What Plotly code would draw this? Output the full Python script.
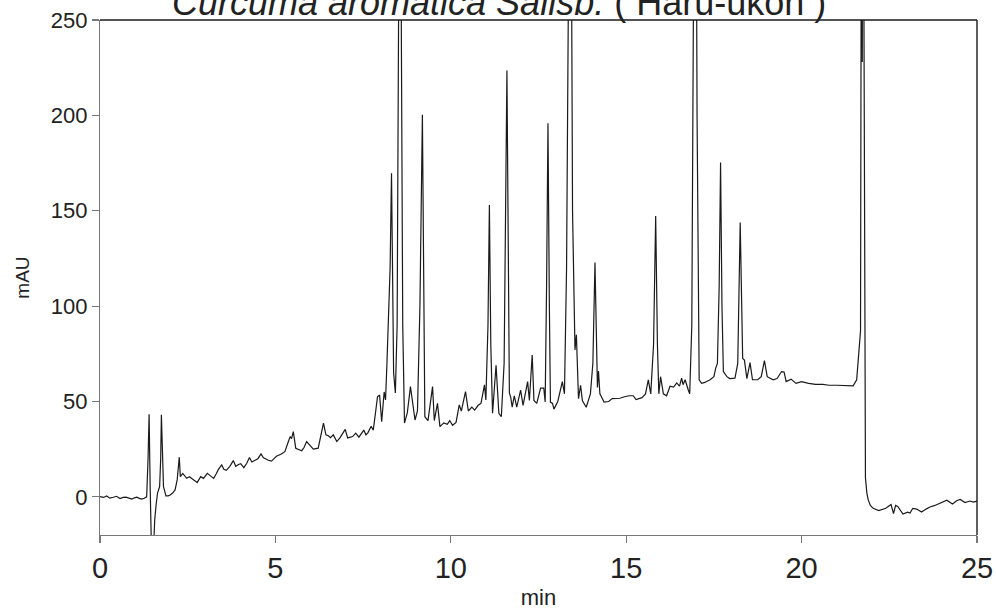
import plotly.graph_objects as go

# Retention time (min) and absorbance (mAU)
time_min = [
    0.00, 0.10, 0.19, 0.28, 0.38, 0.47, 0.57, 0.66, 0.74, 0.83, 0.91, 0.98, 1.05, 1.12, 1.19, 1.26, 1.33,
    1.37, 1.40, 1.43, 1.46, 1.49, 1.52, 1.56, 1.60, 1.64, 1.70, 1.73, 1.75, 1.78, 1.81, 1.88, 1.94,
    2.00, 2.07, 2.14, 2.20, 2.26, 2.29, 2.36, 2.42, 2.47, 2.55, 2.62, 2.70, 2.77, 2.87, 2.95,
    3.06, 3.15, 3.24, 3.31, 3.38, 3.47, 3.53, 3.60, 3.70, 3.80, 3.87, 3.95,
    4.01, 4.10, 4.18, 4.26, 4.33, 4.42, 4.50, 4.59, 4.66, 4.80, 4.89, 4.96,
    5.03, 5.17, 5.27, 5.37, 5.42, 5.46, 5.51, 5.58, 5.66, 5.75, 5.82, 5.89, 5.98,
    6.08, 6.22, 6.30, 6.37, 6.44, 6.51, 6.57, 6.65, 6.75, 6.84, 6.99,
    7.06, 7.20, 7.29, 7.38, 7.52, 7.58, 7.64, 7.73, 7.79, 7.86, 7.91, 7.97,
    8.03, 8.10, 8.14, 8.18, 8.22, 8.27, 8.31, 8.37, 8.42, 8.47, 8.55, 8.63, 8.68, 8.76, 8.85, 8.98,
    9.05, 9.12, 9.19, 9.23, 9.26, 9.35, 9.48, 9.53, 9.62, 9.69, 9.80, 9.90, 9.97,
    10.05, 10.15, 10.24, 10.30, 10.42, 10.50, 10.60, 10.68, 10.78, 10.86, 10.96,
    11.00, 11.06, 11.10, 11.14, 11.19, 11.29, 11.37, 11.44, 11.52, 11.60, 11.64, 11.67, 11.71,
    11.75, 11.81, 11.88, 11.99,
    12.06, 12.19, 12.24, 12.32, 12.37, 12.45, 12.56, 12.65, 12.69, 12.73, 12.77, 12.81, 12.84,
    12.90, 12.94,
    13.05, 13.18, 13.24, 13.30, 13.41, 13.47, 13.54, 13.58, 13.64, 13.70, 13.75, 13.86, 13.98,
    14.05, 14.11, 14.16, 14.18, 14.21, 14.25, 14.37, 14.50, 14.60, 14.82, 14.95,
    15.08, 15.20, 15.28, 15.45, 15.55, 15.63, 15.70, 15.78, 15.84, 15.89, 15.93, 15.98,
    16.06, 16.15, 16.25, 16.35, 16.44, 16.52, 16.58, 16.62, 16.68, 16.77, 16.81, 16.87, 16.97,
    17.02, 17.08, 17.15, 17.24, 17.39, 17.50, 17.55, 17.60, 17.65, 17.69, 17.73, 17.77, 17.87, 17.95,
    18.10, 18.18, 18.25, 18.30, 18.32, 18.37, 18.44, 18.53, 18.60, 18.75, 18.85, 18.94,
    19.02, 19.19, 19.30, 19.43, 19.50, 19.56, 19.70, 19.84,
    20.00, 20.20, 20.40, 20.60, 20.78, 21.00, 21.20, 21.47, 21.57, 21.64, 21.68, 21.71, 21.73,
    21.74, 21.76, 21.80, 21.82, 21.86, 21.90, 21.96,
    22.04, 22.20, 22.40, 22.55, 22.62, 22.68, 22.74, 22.89,
    23.02, 23.09, 23.17, 23.28, 23.42, 23.56, 23.66, 23.80, 23.95,
    24.14, 24.30, 24.42, 24.52, 24.66, 24.80, 24.90, 25.00,
]
absorbance_mau = [
    0.1, -0.3, 0.5, -0.7, -0.2, 0.3, -0.9, -0.3, -0.2, -0.9, -1.2, -0.5, -0.2, -0.8, -1.2, -0.7, 0.0,
    20, 43.3, 5, -40, -48, -30, -12, -4, 2, 5.4, 20, 43, 15, 5.4, 0.5, 0.5,
    1, 2, 3.6, 8.9, 20.8, 10.6, 12.3, 11, 9.7, 10.5, 9.7, 8.5, 7.5, 10.6, 9.7,
    12.3, 11, 9.7, 12, 14.5, 16.7, 14.5, 13.9, 16, 19, 16, 17,
    17.4, 15.3, 17.5, 20.6, 18.3, 19.2, 20, 22.5, 20.5, 19.2, 18.7, 20,
    21.3, 22.5, 23.7, 29, 31.6, 30.5, 34.2, 25.5, 24.8, 24.2, 26, 29, 27.1,
    25, 25.5, 31.6, 38.6, 32.5, 32, 31, 32.5, 29, 30.9, 35.4,
    30.9, 31.6, 33.4, 31.3, 35, 32.5, 33.7, 37, 35, 45, 52.5, 53.4,
    39.4, 55, 50.8, 70, 94.5, 120, 169.7, 65, 54.5, 90, 400, 90, 38.7, 44, 57.8, 40.3,
    45, 100, 200.3, 90, 42, 40, 57.8, 40, 49, 36.8, 38.8, 38, 40,
    37.5, 39, 48.2, 45, 55.2, 45, 47, 45.5, 48, 49, 58.7,
    50.8, 90, 153, 80, 43.8, 69, 43.8, 42, 70, 223.5, 100, 54.5, 52,
    47, 53, 47, 56,
    48, 60.4, 50.5, 74.4, 50.5, 49, 57, 57, 49.7, 110, 195.9, 100, 49.7,
    49, 46,
    50, 60.4, 54, 120, 420, 150, 77, 85, 51.5, 58.5, 50.5, 47, 54,
    70, 122.8, 70, 57.4, 66, 54, 49.7, 50, 51.5, 51.7, 52.5,
    53, 53, 51, 52, 54, 61.3, 54, 80, 147.3, 80, 54, 63,
    54, 53, 58, 57.5, 59.7, 58, 62.2, 58.8, 61.4, 56, 54, 90, 450,
    200, 61.4, 59.5, 60, 61.4, 63, 67.4, 70, 110, 175.3, 100, 65.7, 63, 62,
    62.2, 70, 143.8, 80, 72.5, 71.7, 62, 70.4, 61.4, 61.4, 63, 71.4,
    63, 61.4, 62, 65.7, 65.5, 60.4, 61.7, 59.5,
    60.4, 59.5, 59, 59, 58.5, 58.5, 58.3, 58.2, 61.4, 80.5, 87, 400, 228,
    400, 350, 30, 10, 2, -1.6, -4.5,
    -6, -7.2, -6, -4, -8.8, -4.5, -5, -9,
    -8, -8.5, -6, -6.4, -8, -6.3, -5.3, -4.5, -3.2,
    -1.8, -3.7, -2, -1.4, -3, -2.2, -2.8, -2.2,
]

x_ticks = [0, 5, 10, 15, 20, 25]
y_ticks = [0, 50, 100, 150, 200, 250]
title_main = "Curcuma aromatica Salisb."
title_common = "( Haru-ukon )"

FONT = "Liberation Sans, Arial, Helvetica, sans-serif"

fig = go.Figure()
fig.add_trace(go.Scatter(
    x=time_min, y=absorbance_mau, mode="lines",
    line=dict(color="#1a1a1a", width=1.2),
    showlegend=False, hoverinfo="skip",
))

axis_common = dict(
    showgrid=False, zeroline=False, showline=True, linecolor="#777777", linewidth=1.2,
    ticks="outside", ticklen=7, tickwidth=1.2, tickcolor="#777777", automargin=False,
)
fig.update_xaxes(
    range=[0, 25], tickvals=x_ticks, ticktext=[str(v) for v in x_ticks],
    tickfont=dict(family=FONT, size=29, color="#222222"),
    title=dict(text="min", font=dict(family=FONT, size=22, color="#222222"), standoff=6),
    **axis_common,
)
fig.update_yaxes(
    range=[-20, 250], tickvals=y_ticks, ticktext=[str(v) for v in y_ticks],
    tickfont=dict(family=FONT, size=22, color="#222222"),
    title=dict(text="mAU", font=dict(family=FONT, size=19, color="#222222"), standoff=16),
    **axis_common,
)

fig.add_shape(type="line", xref="paper", yref="paper", x0=0, x1=1, y0=1, y1=1,
              line=dict(color="#1a1a1a", width=1.4))
fig.add_shape(type="line", xref="paper", yref="paper", x0=1, x1=1, y0=0, y1=1,
              line=dict(color="#1a1a1a", width=1.4))

fig.add_annotation(
    xref="paper", yref="paper", x=0.455, y=1, xanchor="center", yanchor="bottom",
    yshift=-5, showarrow=False,
    text=f"<i>{title_main}</i> {title_common}",
    font=dict(family=FONT, size=36, color="#222222"),
)

fig.update_layout(
    width=996, height=612,
    margin=dict(l=100, r=19, t=20, b=77, autoexpand=False),
    paper_bgcolor="white", plot_bgcolor="white",
)

fig.write_html(
    "out.html",
    config={"displayModeBar": False, "staticPlot": True},
    post_script="document.body.style.margin='0';document.body.style.overflow='hidden';",
)
